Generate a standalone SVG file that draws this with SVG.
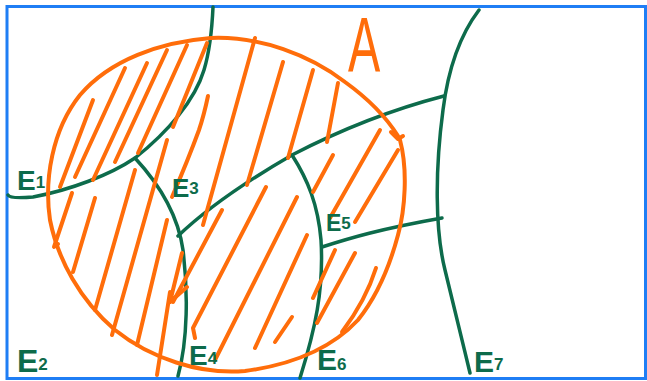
<svg xmlns="http://www.w3.org/2000/svg" width="647" height="381" viewBox="0 0 647 381">
<style>
.g{fill:none;stroke:#0d6b4b;stroke-width:3.5;stroke-linecap:round;stroke-linejoin:round}
.o{fill:none;stroke:#ff6d0a;stroke-width:4;stroke-linecap:round;stroke-linejoin:round}
.lbl{font-family:"Liberation Sans",Arial,sans-serif;font-weight:bold;fill:#0d6b4b}
.sub{font-size:17px}
</style>
<rect x="0" y="0" width="647" height="381" fill="#ffffff"/>
<rect id="frame" x="7" y="6.5" width="638.5" height="372" fill="none" stroke="#1f7ef5" stroke-width="3"/>
<g id="boundaries">
<path class="g" d="M8,195 Q10,199 33,197 C70,190 110,175 135,158 C168,132 195,100 204,70 C210,50 212,30 213,7"/>
<path class="g" d="M135,158 C160,185 178,215 183,250 C188,290 188,340 178,376"/>
<path class="g" d="M178,236 C200,215 240,185 292,155 C340,130 390,110 444,96"/>
<path class="g" d="M292,155 C308,180 318,205 321,240 C324,290 315,330 300,378"/>
<path class="g" d="M322,247 C350,238 380,229 442,218"/>
<path class="g" d="M479,10 C460,35 448,70 443,110 C435,170 435,230 445,270 C455,310 462,340 470,373"/>
</g>
<g id="regionA">
<path class="o" d="M400,140 C408,170 405,210 398,235 C390,265 378,295 358,320 C330,350 290,365 245,371 C200,375 150,358 115,330 C80,300 58,260 50,220 C44,180 52,130 80,95 C110,60 160,42 211,38 C260,36 310,55 345,82 C370,100 388,120 398,136"/>
<path class="o" d="M391,132 L398,139 L403,136"/>
<path class="o" d="M376,268 Q366,300 342,332"/>
</g>
<g id="hatching">
<path class="o" d="M93,100 L60,187"/>
<path class="o" d="M125,68 L75,177"/>
<path class="o" d="M147,63 L93,180"/>
<path class="o" d="M167,50 L115,162"/>
<path class="o" d="M187,45 L138,153"/>
<path class="o" d="M207,43 L173,127"/>
<path class="o" d="M72,193 L54,247 L58,244"/>
<path class="o" d="M95,198 L73,272"/>
<path class="o" d="M135,170 L95,310"/>
<path class="o" d="M167,140 L112,335"/>
<path class="o" d="M167,220 L137,345"/>
<path class="o" d="M208,96 Q204,115 199,130 Q188,160 172,197"/>
<path class="o" d="M255,38 L203,225"/>
<path class="o" d="M182,253 L170,302 L187,287"/>
<path class="o" d="M222,210 L173,302"/>
<path class="o" d="M170,292 L157,375"/>
<path class="o" d="M266,187 L193,328 L195,338"/>
<path class="o" d="M297,197 L215,360"/>
<path class="o" d="M307,235 L255,348"/>
<path class="o" d="M292,317 L275,342"/>
<path class="o" d="M283,62 L247,185"/>
<path class="o" d="M313,70 L288,158"/>
<path class="o" d="M338,83 L327,142"/>
<path class="o" d="M333,155 L313,192"/>
<path class="o" d="M380,130 L330,218"/>
<path class="o" d="M398,150 L355,222"/>
<path class="o" d="M335,250 L313,298"/>
<path class="o" d="M355,253 L317,323"/>
</g>
<g id="labels">
<text x="348" y="72" transform="translate(348 72) scale(0.62 1) translate(-348 -72)" style="font-family:'Liberation Sans',Arial,sans-serif;font-size:78px;fill:#ff6d0a">A</text>
<text class="lbl" x="17" y="190" font-size="28">E<tspan class="sub" dy="-2">1</tspan></text>
<text class="lbl" x="17" y="372" font-size="32">E<tspan class="sub" font-size="22" dy="-2">2</tspan></text>
<text class="lbl" x="172" y="197" font-size="26">E<tspan class="sub" font-size="20" dy="-3">3</tspan></text>
<text class="lbl" x="189" y="365" font-size="28">E<tspan class="sub" font-size="20" dy="-1">4</tspan></text>
<text class="lbl" x="326" y="231" font-size="23">E<tspan class="sub" dy="-2">5</tspan></text>
<text class="lbl" x="317" y="370" font-size="30">E<tspan class="sub" font-size="22" dy="0">6</tspan></text>
<text class="lbl" x="474" y="372" font-size="30">E<tspan class="sub" font-size="20" dy="-2">7</tspan></text>
</g>
</svg>
